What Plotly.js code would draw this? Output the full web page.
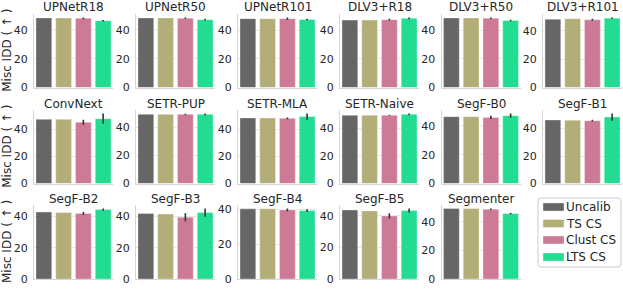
<!DOCTYPE html>
<html><head><meta charset="utf-8">
<script src="https://cdn.plot.ly/plotly-3.0.1.min.js"></script>
<style>html,body{margin:0;padding:0;background:#fff}#c{width:623px;height:289px}</style>
</head><body><div id="c"></div>
<script>
const models = ["UPNetR18","UPNetR50","UPNetR101","DLV3+R18","DLV3+R50","DLV3+R101",
  "ConvNext","SETR-PUP","SETR-MLA","SETR-Naive","SegF-B0","SegF-B1",
  "SegF-B2","SegF-B3","SegF-B4","SegF-B5","Segmenter"];
const seriesNames = ["Uncalib","TS CS","Clust CS","LTS CS"];
const uncalib = [48.3,48.3,48.0,47.1,48.8,48.1, 47.1,49.3,48.5,49.5,46.4,46.2, 42.8,41.9,40.4,43.8,49.4];
const tsCS    = [48.3,48.3,48.0,47.1,48.8,48.4, 47.1,49.3,48.5,49.5,46.4,46.0, 42.4,41.5,40.4,43.2,49.4];
const clustCS = [48.0,48.1,48.0,47.4,48.6,47.7, 45.0,49.3,48.2,49.5,45.9,45.7, 41.9,39.4,39.8,40.0,48.9];
const clustErr= [0.6,0.5,0.8,0.6,0.5,0.7, 1.8,0.4,0.6,0.4,1.2,0.7, 0.9,2.6,0.8,1.7,0.5];
const ltsCS   = [46.4,47.1,47.4,48.3,47.0,48.8, 47.6,49.3,49.5,50.2,47.1,48.3, 44.3,42.4,39.4,43.4,45.9];
const ltsErr  = [0.5,0.6,0.5,0.6,0.6,0.5, 3.8,0.6,2.3,0.6,1.5,2.6, 0.7,2.6,0.8,1.3,0.6];
const yTicks = [0,20,40];
const colors = ["#666666","#b3ad78","#cc7a96","#22dd91"];

const W=623,H=289;
const px=x=>x/W, py=y=>1-y/H;
const colLeft=[34,136,238,340,441.5,543], axW=79;
const rowTop=[14,110,205], rowBot=[87.5,183.5,279];
const txt='#262626';

const data=[], layout={width:W,height:H,margin:{l:0,r:0,t:0,b:0},paper_bgcolor:'#fff',plot_bgcolor:'#fff',
  showlegend:false,bargap:0.2,annotations:[],shapes:[],font:{family:'DejaVu Sans',color:txt}};

models.forEach((m,i)=>{
  const r=Math.floor(i/6), c=i%6, k=i+1;
  const xa='x'+(k===1?'':k), ya='y'+(k===1?'':k);
  const vals=[uncalib[i],tsCS[i],clustCS[i],ltsCS[i]];
  const errs=[0,0,clustErr[i],ltsErr[i]];
  const top=Math.max(...vals.map((v,j)=>v+errs[j]))*1.05;
  data.push({type:'bar',x:[0,1,2,3],y:vals,xaxis:xa,yaxis:ya,width:0.8,
    marker:{color:colors,line:{color:'rgba(255,255,255,0.35)',width:1}},
    error_y:{type:'data',array:errs,visible:true,color:'#333333',thickness:1.6,width:0},
    text:seriesNames,hoverinfo:'y+text',textposition:'none'});
  layout['xaxis'+(k===1?'':k)]={domain:[px(colLeft[c]),px(colLeft[c]+axW)],anchor:ya,range:[-0.5,3.5],
    showticklabels:false,showgrid:false,zeroline:false,showline:true,linecolor:'#d6d6d6',linewidth:1,ticks:'',fixedrange:true};
  layout['yaxis'+(k===1?'':k)]={domain:[py(rowBot[r]),py(rowTop[r])],anchor:xa,range:[0,top],
    tickvals:yTicks,ticktext:yTicks.map(String),tickfont:{size:11,color:txt},ticks:'',ticklabelstandoff:3,
    showgrid:true,gridcolor:'#e6e6e6',gridwidth:1,zeroline:false,showline:true,linecolor:'#d6d6d6',linewidth:1,fixedrange:true};
  layout.annotations.push({text:m,xref:'paper',yref:'paper',x:px(colLeft[c]+axW/2),y:py(rowTop[r]-6.5),
    xanchor:'center',yanchor:'middle',borderpad:0,showarrow:false,font:{size:12,color:txt}});
});
for(let r=0;r<3;r++){
  layout.annotations.push({text:'Misc IDD ( ↑ )',xref:'paper',yref:'paper',x:px(7),y:py((rowTop[r]+rowBot[r])/2),
    textangle:-90,xanchor:'center',yanchor:'middle',showarrow:false,font:{size:12,color:txt}});
}
// legend box
const lx0=538,lx1=621,ly0=198,ly1=267,rr=3;
layout.shapes.push({type:'path',xref:'paper',yref:'paper',
  path:`M ${px(lx0+rr)} ${py(ly0)} L ${px(lx1-rr)} ${py(ly0)} Q ${px(lx1)} ${py(ly0)} ${px(lx1)} ${py(ly0+rr)} L ${px(lx1)} ${py(ly1-rr)} Q ${px(lx1)} ${py(ly1)} ${px(lx1-rr)} ${py(ly1)} L ${px(lx0+rr)} ${py(ly1)} Q ${px(lx0)} ${py(ly1)} ${px(lx0)} ${py(ly1-rr)} L ${px(lx0)} ${py(ly0+rr)} Q ${px(lx0)} ${py(ly0)} ${px(lx0+rr)} ${py(ly0)} Z`,
  line:{color:'#cccccc',width:1},fillcolor:'rgba(255,255,255,0.9)'});
const ly=[207,223.5,240,257];
seriesNames.forEach((s,j)=>{
  layout.shapes.push({type:'rect',xref:'paper',yref:'paper',x0:px(543),x1:px(564),y0:py(ly[j]-4),y1:py(ly[j]+4),
    fillcolor:colors[j],line:{color:'rgba(255,255,255,0.35)',width:1}});
  layout.annotations.push({text:s,xref:'paper',yref:'paper',x:px(565),y:py(ly[j]),xanchor:'left',yanchor:'middle',
    showarrow:false,font:{size:12,color:txt},borderpad:0});
});
Plotly.newPlot('c',data,layout,{displayModeBar:false,staticPlot:true});
</script></body></html>
